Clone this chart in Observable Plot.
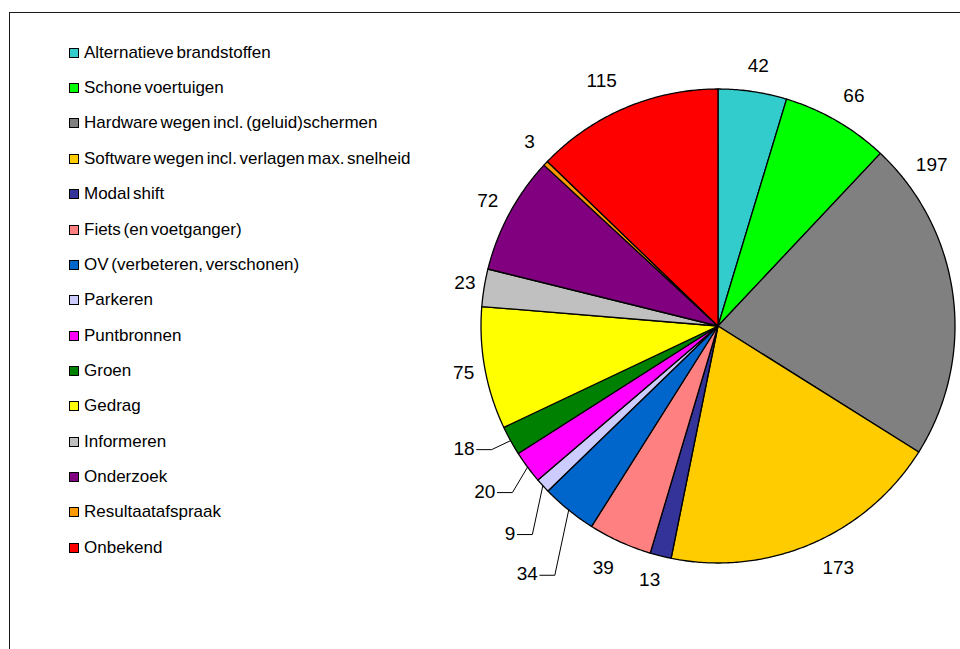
<!DOCTYPE html>
<html><head><meta charset="utf-8">
<script src="https://cdn.jsdelivr.net/npm/d3@7"></script>
<script src="https://cdn.jsdelivr.net/npm/@observablehq/plot@0.6"></script>
<style>
html,body{margin:0;padding:0;background:#fff;overflow:hidden;}
#wrap{position:relative;width:960px;height:649px;overflow:hidden;font-family:"Liberation Sans",Arial,sans-serif;}
#frame{position:absolute;left:9px;top:12px;width:1000px;height:700px;border-left:1px solid #1a1a1a;border-top:1px solid #1a1a1a;}
#chart{position:absolute;left:0;top:0;}
#legend{position:absolute;left:0;top:0;}
.item{position:absolute;left:69px;height:20px;display:flex;align-items:center;color:#000;white-space:nowrap;word-spacing:-2px;}
.sw{width:8px;height:8px;border:1px solid #000;margin-right:5px;flex:none;}
</style></head>
<body><div id="wrap"><div id="frame"></div><div id="chart"></div><div id="legend"></div></div>
<script>
// ---- data ----
const categories = [
  "Alternatieve brandstoffen",
  "Schone voertuigen",
  "Hardware wegen incl. (geluid)schermen",
  "Software wegen incl. verlagen max. snelheid",
  "Modal shift",
  "Fiets (en voetganger)",
  "OV (verbeteren, verschonen)",
  "Parkeren",
  "Puntbronnen",
  "Groen",
  "Gedrag",
  "Informeren",
  "Onderzoek",
  "Resultaatafspraak",
  "Onbekend"
];
const values = [42, 66, 197, 173, 13, 39, 34, 9, 20, 18, 75, 23, 72, 3, 115];
const colors = ["#33CCCC","#00FF00","#808080","#FFCC00","#333399","#FF8080","#0066CC",
                "#CCCCFF","#FF00FF","#008000","#FFFF00","#C0C0C0","#800080","#FF9900","#FF0000"];

// ---- layout ----
const W = 960, H = 649, CX = 717.5, CY = 325.5, R = 237;
const LABEL_FS = 19, LEGEND_FS = 17;
// Excel-style manual label adjustments (px)
const labelNudge = {
  "Alternatieve brandstoffen": [2, 0],
  "Schone voertuigen": [5, -2],
  "Hardware wegen incl. (geluid)schermen": [-51, -128],
  "Software wegen incl. verlagen max. snelheid": [15, 0],
  "Modal shift": [-5, -1],
  "Fiets (en voetganger)": [-6.5, 2],
  "OV (verbeteren, verschonen)": [-26, 44],
  "Parkeren": [-18.5, 30.4],
  "Puntbronnen": [-23, 9],
  "Groen": [-25, -4.6],
  "Gedrag": [3, 0],
  "Informeren": [5, -1],
  "Resultaatafspraak": [-2, -4],
  "Onbekend": [-12, -3]
};
const withLeader = new Set(["OV (verbeteren, verschonen)", "Parkeren", "Puntbronnen", "Groen"]);

const toX = px => (px - CX) / R;
const toY = py => (CY - py) / R;

const rows = categories.map((name, i) => ({name, value: values[i], color: colors[i]}));
const arcs = d3.pie().sort(null).value(d => d.value)(rows);

// slice polygons
const slicePts = [];
for (const a of arcs) {
  const n = Math.max(2, Math.ceil((a.endAngle - a.startAngle) / (Math.PI / 360)));
  slicePts.push({name: a.data.name, x: 0, y: 0});
  for (let k = 0; k <= n; k++) {
    const t = a.startAngle + (a.endAngle - a.startAngle) * k / n;
    slicePts.push({name: a.data.name, x: Math.sin(t), y: Math.cos(t)});
  }
}

// labels
const labels = [], leaders = [];
for (const a of arcs) {
  const m = (a.startAngle + a.endAngle) / 2;
  const s = Math.sin(m), c = Math.cos(m);
  const txt = String(a.data.value);
  const tw = txt.length * 0.556 * LABEL_FS;
  let px = CX + (R + 11) * s + (tw / 2 + 3) * s;
  let py = CY - (R + 11) * c - 15 * c;
  const nd = labelNudge[a.data.name] || [0, 0];
  px += nd[0]; py += nd[1];
  labels.push({name: a.data.name, text: txt, x: toX(px), y: toY(py)});
  if (withLeader.has(a.data.name)) {
    const x0 = px + tw / 2 + 2, y0 = py + 1;
    leaders.push({name: a.data.name, x: toX(x0), y: toY(y0)});
    leaders.push({name: a.data.name, x: toX(x0 + 15), y: toY(y0)});
    leaders.push({name: a.data.name, x: s, y: c});
  }
}

const chart = Plot.plot({
  width: W, height: H,
  marginLeft: CX - R, marginRight: W - (CX + R),
  marginTop: CY - R, marginBottom: H - (CY + R),
  x: {domain: [-1, 1], axis: null},
  y: {domain: [-1, 1], axis: null},
  color: {domain: categories, range: colors},
  style: {fontFamily: "'Liberation Sans', Arial, sans-serif", background: "transparent", overflow: "visible"},
  marks: [
    Plot.line(slicePts, {x: "x", y: "y", z: "name", fill: "name", stroke: "#000",
      strokeWidth: 1.3, strokeLinejoin: "round", curve: "linear-closed"}),
    Plot.line(leaders, {x: "x", y: "y", z: "name", stroke: "#000", strokeWidth: 1}),
    Plot.text(labels, {x: "x", y: "y", text: "text", fontSize: LABEL_FS, fill: "#000",
      textAnchor: "middle", lineAnchor: "middle"})
  ]
});
document.getElementById("chart").appendChild(chart);

// legend
const leg = document.getElementById("legend");
categories.forEach((name, i) => {
  const cy = 52.7 + 35.36 * i;
  const it = document.createElement("div");
  it.className = "item";
  it.style.top = (cy - 10) + "px";
  it.style.fontSize = LEGEND_FS + "px";
  const sw = document.createElement("span");
  sw.className = "sw";
  sw.style.background = colors[i];
  const tx = document.createElement("span");
  tx.textContent = name;
  it.appendChild(sw); it.appendChild(tx);
  leg.appendChild(it);
});
</script>
</body></html>
